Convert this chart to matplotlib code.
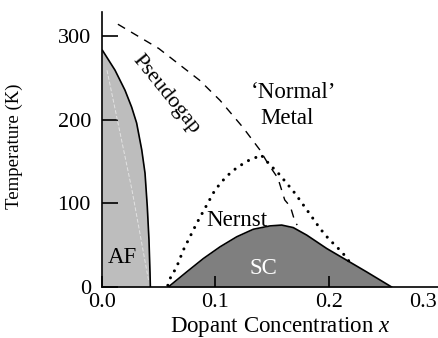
import matplotlib
matplotlib.use("Agg")
import matplotlib.pyplot as plt
import matplotlib.transforms as mtransforms

# phase boundaries (x = dopant, T in K)
af_x = [0.0, 0.0003, 0.0115, 0.0203, 0.0261, 0.0305, 0.035, 0.0379, 0.0399, 0.0414, 0.0423, 0.0426]
af_t = [283, 283, 259, 235, 215, 196, 164, 136, 96, 56, 17, 0]

pg_x = [0.014, 0.05, 0.086, 0.104, 0.124, 0.139, 0.146, 0.155, 0.161, 0.166, 0.170, 0.172]
pg_t = [314, 285, 247, 223, 191, 164, 148, 130, 104, 96, 78, 74]

nernst_x = [0.058, 0.0599, 0.0658, 0.0716, 0.0775, 0.0834, 0.0907, 0.0996, 0.107, 0.1143,
            0.1216, 0.1289, 0.1377, 0.14, 0.148, 0.1553, 0.1627, 0.17, 0.1774, 0.1848,
            0.192, 0.1994, 0.2097, 0.2156, 0.2203]
nernst_t = [2, 10, 24, 44, 60, 76, 94, 116, 128, 138,
            145, 151, 156, 158, 146, 136, 124, 112, 98, 84,
            70, 58, 44, 35, 25]

sc_x = [0.0584, 0.0746, 0.0893, 0.104, 0.1187, 0.1333, 0.148, 0.1583, 0.1685, 0.1804,
        0.198, 0.2156, 0.2332, 0.2552]
sc_t = [0, 18, 34, 48, 60, 69, 73, 74, 71, 62,
        46, 32, 18, 0]

streak_x = [0.0044, 0.0264, 0.041]
streak_t = [259, 116, 8]

xticks = [0.0, 0.1, 0.2, 0.3]
yticks = [0, 100, 200, 300]

plt.rcParams['font.family'] = ['Liberation Serif', 'DejaVu Serif']
plt.rcParams['mathtext.fontset'] = 'custom'
plt.rcParams['mathtext.it'] = 'Liberation Serif:italic'

fig = plt.figure(figsize=(4.39, 3.38), dpi=100)
ax = fig.add_axes([102 / 439, 51 / 338, 340.5 / 439, 275 / 338])

# AF region
ax.fill_between(af_x, af_t, 0, color='#bdbdbd', lw=0)
ax.plot(af_x, af_t, color='black', lw=1.2)
ax.plot(streak_x, streak_t, color='#e2e2e2', lw=0.7, ls=(0, (4, 2)))

# SC dome
ax.fill_between(sc_x, sc_t, 0, color='#7f7f7f', lw=0)
ax.plot(sc_x, sc_t, color='black', lw=1.2)

# pseudogap and Nernst lines
ax.plot(pg_x, pg_t, color='black', lw=1.0, ls=(0, (6, 5)))
ax.plot(nernst_x, nernst_t, color='black', lw=2.2, ls=(0, (0.01, 2.6)),
        dash_capstyle='round')

ax.set_xlim(0, 0.3)
ax.set_ylim(0, 328.6)
ax.set_xticks(xticks)
ax.set_xticklabels(['0.0', '0.1', '0.2', '0.3'])
ax.set_yticks(yticks)
ax.spines['top'].set_visible(False)
ax.spines['right'].set_visible(False)
ax.spines['left'].set_linewidth(1.2)
ax.spines['bottom'].set_linewidth(1.2)
ax.spines['left'].set_zorder(5)
ax.tick_params(axis='y', direction='in', length=11.5, width=1.2, pad=8, labelsize=16)
ax.tick_params(axis='x', direction='in', length=8, width=1.2, pad=4, labelsize=16)

# last x label sits at the right edge, pull it in so it stays readable
lab = ax.get_xticklabels()[-1]
lab.set_transform(lab.get_transform() + mtransforms.ScaledTranslation(-19 / 100, 0, fig.dpi_scale_trans))

ax.set_xlabel('Dopant Concentration $x$', fontsize=16.5)
ax.xaxis.label.set_va('baseline')
ax.xaxis.set_label_coords((280 - 102) / 340.5, -(332 - 287) / 275)
ax.set_ylabel('Temperature (K)', fontsize=13.5)
ax.yaxis.set_label_coords(-(102 - 23) / 340.5, (287 - 146) / 275)

ax.text(0.0565, 230, 'Pseudogap', rotation=-51, ha='center', va='center', fontsize=16)
ax.text(0.169, 232, '\u2018Normal\u2019', ha='center', va='center', fontsize=16.5)
ax.text(0.163, 201, 'Metal', ha='center', va='center', fontsize=16.5)
ax.text(0.119, 79, 'Nernst', ha='center', va='center', fontsize=16.5)
ax.text(0.142, 22.7, 'SC', ha='center', va='center', fontsize=16.5, color='white')
ax.text(0.0176, 35.8, 'AF', ha='center', va='center', fontsize=16.5)

plt.savefig('out.png', dpi=100)
